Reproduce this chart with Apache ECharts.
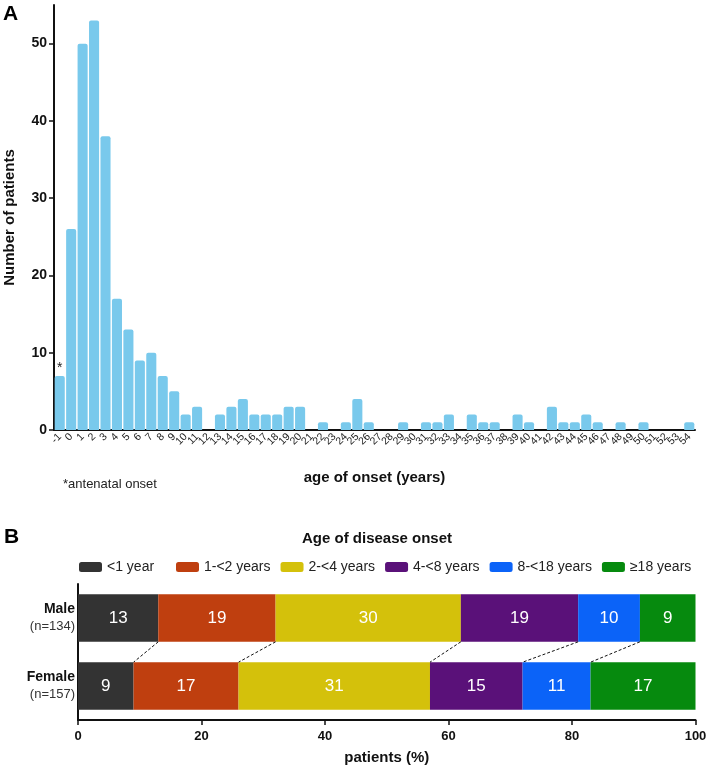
<!DOCTYPE html>
<html>
<head>
<meta charset="utf-8">
<script src="https://cdn.jsdelivr.net/npm/echarts@6/dist/echarts.min.js"></script>
<style>html,body{margin:0;padding:0;background:#fff;}#c{width:709px;height:766px;}</style>
</head>
<body>
<div id="c"></div>
<script>
// Panel A: histogram
const ages = [];
for (let a = -1; a <= 54; a++) ages.push(String(a));
const patientCounts = [7,26,50,53,38,17,13,9,10,7,5,2,3,0,2,3,4,2,2,2,3,3,0,1,0,1,4,1,0,0,1,0,1,1,2,0,2,1,1,0,2,1,0,3,1,1,2,1,0,1,0,1,0,0,0,1];
const yTicksA = [0,10,20,30,40,50];

// Panel B: stacked percentages
const groups = ['Male','Female'];
const groupN = ['(n=134)','(n=157)'];
const onsetClasses = ['<1 year','1-<2 years','2-<4 years','4-<8 years','8-<18 years','≥18 years'];
const malePct = [13,19,30,19,10,9];
const femalePct = [9,17,31,15,11,17];
const classColors = ['#333333','#BF3F0F','#D4C10B','#5A1179','#0B63F8','#068A0E'];

const FONT = 'Liberation Sans, Arial, sans-serif';
const BAR_FRAC = 0.70;

const stackSeries = onsetClasses.map((name, i) => ({
  name: name,
  type: 'bar',
  stack: 'total',
  xAxisIndex: 1,
  yAxisIndex: 1,
  barWidth: (BAR_FRAC*100) + '%',
  itemStyle: { color: classColors[i] },
  label: { show: true, position: 'inside', color: '#fff', fontSize: 17, fontFamily: FONT },
  data: [malePct[i], femalePct[i]]
}));

// boundaries for dashed connectors
const connectors = [];
let mc = 0, fc = 0;
for (let i = 0; i < onsetClasses.length - 1; i++) {
  mc += malePct[i]; fc += femalePct[i];
  connectors.push([mc, 0, fc, 1]);
}

const legendCommon = {
  top: 560, padding: 0,
  itemWidth: 23, itemHeight: 10,
  icon: 'roundRect',
  textStyle: { fontSize: 14, color: '#222', fontFamily: FONT }
};

const option = {
  animation: false,
  textStyle: { fontFamily: FONT },
  title: {
    text: 'Age of disease onset',
    left: 377, textAlign: 'center', top: 531, padding: 0,
    textStyle: { fontSize: 15, fontWeight: 'bold', color: '#111', fontFamily: FONT }
  },
  legend: [
    Object.assign({}, legendCommon, { data: [onsetClasses[0]], left: 79 }),
    Object.assign({}, legendCommon, { data: onsetClasses.slice(1), left: 176, itemGap: 10 })
  ],
  graphic: [
    { type: 'text', left: 3, top: 4, style: { text: 'A', fontSize: 21, fontWeight: 'bold', fill: '#000', fontFamily: FONT } },
    { type: 'text', left: 4, top: 527, style: { text: 'B', fontSize: 21, fontWeight: 'bold', fill: '#000', fontFamily: FONT } },
    { type: 'text', left: 63, top: 478, style: { text: '*antenatal onset', fontSize: 13, fill: '#222', fontFamily: FONT } }
  ],
  grid: [
    { left: 54, right: 14, top: 5, bottom: 336, outerBoundsMode: 'none', containLabel: false },
    { left: 78, right: 13.5, top: 584, bottom: 46, outerBoundsMode: 'none', containLabel: false }
  ],
  xAxis: [
    {
      gridIndex: 0, type: 'category', data: ages,
      name: 'age of onset (years)', nameLocation: 'middle', nameGap: 40,
      nameTextStyle: { fontSize: 15, fontWeight: 'bold', color: '#111', fontFamily: FONT },
      axisLine: { lineStyle: { color: '#111', width: 2 } },
      axisTick: { alignWithLabel: true, interval: 0, length: 5, lineStyle: { color: '#111', width: 1.5 } },
      axisLabel: { interval: 0, rotate: 45, fontSize: 10.5, color: '#222', margin: 5, fontFamily: FONT }
    },
    {
      gridIndex: 1, type: 'value', min: 0, max: 100, interval: 20,
      name: 'patients (%)', nameLocation: 'middle', nameGap: 30,
      nameTextStyle: { fontSize: 15, fontWeight: 'bold', color: '#111', fontFamily: FONT },
      splitLine: { show: false },
      axisLine: { show: true, lineStyle: { color: '#111', width: 2 } },
      axisTick: { show: true, length: 5, lineStyle: { color: '#111', width: 1.5 } },
      axisLabel: { fontSize: 13, fontWeight: 'bold', color: '#111', margin: 10, fontFamily: FONT }
    }
  ],
  yAxis: [
    {
      gridIndex: 0, type: 'value', min: 0, max: 55,
      name: 'Number of patients', nameLocation: 'middle', nameGap: 37,
      nameTextStyle: { fontSize: 15, fontWeight: 'bold', color: '#111', fontFamily: FONT },
      splitLine: { show: false },
      axisLine: { show: true, lineStyle: { color: '#111', width: 2 } },
      axisTick: { show: true, length: 5, customValues: yTicksA, lineStyle: { color: '#111', width: 1.5 } },
      axisLabel: { fontSize: 14, fontWeight: 'bold', color: '#111', margin: 7, customValues: yTicksA, fontFamily: FONT }
    },
    {
      gridIndex: 1, type: 'category', data: groups, inverse: true,
      axisLine: { lineStyle: { color: '#111', width: 2 } },
      axisTick: { show: false },
      axisLabel: {
        margin: 3, align: 'right',
        formatter: (v, i) => '{b|' + v + '}\n{n|' + groupN[i] + '}',
        rich: {
          b: { fontSize: 14, fontWeight: 'bold', color: '#111', lineHeight: 17, align: 'right', fontFamily: FONT },
          n: { fontSize: 13, color: '#333', lineHeight: 17, align: 'right', fontFamily: FONT }
        }
      }
    }
  ],
  series: [
    {
      type: 'bar', xAxisIndex: 0, yAxisIndex: 0,
      barCategoryGap: '12%',
      itemStyle: { color: '#79C9EC', borderRadius: [2,2,0,0] },
      data: patientCounts.map((v, i) => i === 0
        ? { value: v, label: { show: true, position: 'top', formatter: '*', fontSize: 14, color: '#222', distance: 1 } }
        : v)
    },
    ...stackSeries,
    {
      type: 'custom', xAxisIndex: 1, yAxisIndex: 1,
      encode: { x: [0, 2], y: [1, 3] },
      silent: true, z: 5,
      renderItem: function (params, api) {
        const p1 = api.coord([api.value(0), api.value(1)]);
        const p2 = api.coord([api.value(2), api.value(3)]);
        const half = api.size([0, 1])[1] * BAR_FRAC / 2;
        return {
          type: 'line',
          shape: { x1: p1[0], y1: p1[1] + half, x2: p2[0], y2: p2[1] - half },
          style: { stroke: '#111', lineWidth: 1, lineDash: [3, 2] }
        };
      },
      data: connectors
    }
  ]
};

const chart = echarts.init(document.getElementById('c'), null, { renderer: 'canvas' });
chart.setOption(option);
</script>
</body>
</html>
